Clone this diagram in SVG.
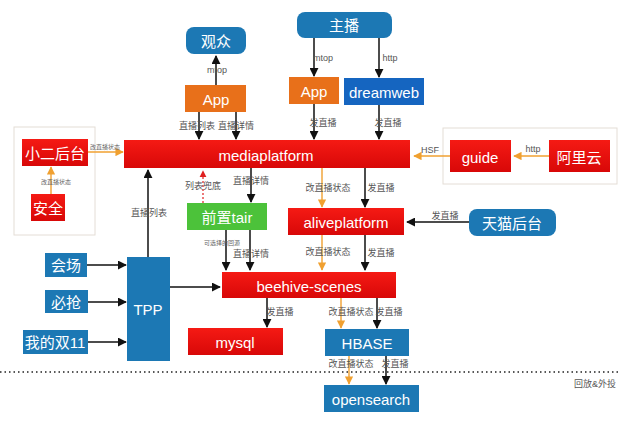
<svg xmlns="http://www.w3.org/2000/svg" width="620" height="421" viewBox="0 0 620 421">
<defs>
<linearGradient id="red" x1="0" y1="0" x2="0" y2="1"><stop offset="0" stop-color="#f51a14"/><stop offset="1" stop-color="#d80808"/></linearGradient>
<marker id="ab" viewBox="0 0 10 10" refX="9" refY="5" markerWidth="6" markerHeight="6" orient="auto"><path d="M0,0 L10,5 L0,10 z" fill="#111"/></marker>
<marker id="ao" viewBox="0 0 10 10" refX="9" refY="5" markerWidth="6" markerHeight="6" orient="auto"><path d="M0,0 L10,5 L0,10 z" fill="#f0a030"/></marker>
<marker id="ar" viewBox="0 0 10 10" refX="9" refY="5" markerWidth="6" markerHeight="6" orient="auto"><path d="M0,0 L10,5 L0,10 z" fill="#e02020"/></marker>
</defs>
<style>
text{font-family:"Liberation Sans","Noto Sans CJK SC",sans-serif}
.red{fill:url(#red)}
.blue{fill:#1c78b4}
.org{fill:#e8701a}
.t{fill:#fff;font-size:15px;text-anchor:middle;dominant-baseline:central}
.l{fill:#555;font-size:9px;text-anchor:middle;dominant-baseline:central}
.s{fill:#666;font-size:6px;text-anchor:middle;dominant-baseline:central}
.cb{stroke:#111;stroke-width:1.5;fill:none;marker-end:url(#ab)}
.co{stroke:#f0a030;stroke-width:1.4;fill:none;marker-end:url(#ao)}
.frame{fill:#fff;stroke:#e4ddd6;stroke-width:1}
</style>
<rect width="620" height="421" fill="#fff"/>
<rect class="frame" x="14" y="127" width="81" height="108"/>
<rect class="frame" x="443" y="128" width="174" height="56"/>
<line x1="0" y1="372" x2="620" y2="372" stroke="#222" stroke-width="1.5" stroke-dasharray="1.5 3"/>
<text class="l" x="595" y="384">回放&amp;外投</text>

<g id="connectors">
<line class="cb" x1="216" y1="85" x2="216" y2="56"/><text class="l" x="217" y="70">mtop</text>
<line class="cb" x1="199" y1="112" x2="199" y2="139"/><text class="l" x="197" y="126">直播列表</text>
<line class="cb" x1="236" y1="112" x2="236" y2="139"/><text class="l" x="236" y="126">直播详情</text>
<line class="cb" x1="314" y1="38" x2="314" y2="76"/><text class="l" x="323" y="58">mtop</text>
<line class="cb" x1="379" y1="38" x2="379" y2="77"/><text class="l" x="390" y="58">http</text>
<line class="cb" x1="314" y1="104" x2="314" y2="139"/><text class="l" x="323" y="123">发直播</text>
<line class="cb" x1="379" y1="105" x2="379" y2="139"/><text class="l" x="388" y="123">发直播</text>
<line class="co" x1="549" y1="156" x2="514" y2="156"/><text class="l" x="533" y="149">http</text>
<line class="co" x1="450" y1="156" x2="414" y2="156"/><text class="l" x="430" y="150">HSF</text>
<line class="co" x1="88" y1="152" x2="123" y2="152"/><text class="s" x="105" y="147">改直播状态</text>
<line class="co" x1="51" y1="194" x2="51" y2="167"/><text class="s" x="56" y="182">改直播状态</text>
<line class="cb" x1="148" y1="257" x2="148" y2="170"/><text class="l" x="149" y="213">直播列表</text>
<line stroke="#e02020" stroke-width="1.2" stroke-dasharray="2 2" marker-end="url(#ar)" x1="203" y1="203" x2="203" y2="171"/><text class="l" x="203" y="186">列表兜底</text>
<line class="cb" x1="251" y1="168" x2="251" y2="202"/><text class="l" x="251" y="181">直播详情</text>
<line class="cb" x1="226" y1="230" x2="226" y2="270"/><text class="s" x="222" y="243">可选择的回源</text>
<line class="cb" x1="250" y1="230" x2="250" y2="270"/><text class="l" x="251" y="254">直播详情</text>
<line class="co" x1="322" y1="168" x2="322" y2="207"/><text class="l" x="328" y="188">改直播状态</text>
<line class="cb" x1="365" y1="168" x2="365" y2="207"/><text class="l" x="381" y="188">发直播</text>
<line class="cb" x1="469" y1="222" x2="407" y2="222"/><text class="l" x="445" y="216">发直播</text>
<line class="co" x1="322" y1="235" x2="322" y2="270"/><text class="l" x="328" y="252">改直播状态</text>
<line class="cb" x1="365" y1="235" x2="365" y2="270"/><text class="l" x="381" y="253">发直播</text>
<line class="cb" x1="87" y1="265" x2="126" y2="265"/>
<line class="cb" x1="88" y1="302" x2="126" y2="302"/>
<line class="cb" x1="88" y1="342" x2="126" y2="342"/>
<line class="cb" x1="170" y1="287" x2="220" y2="287"/>
<line class="cb" x1="267" y1="298" x2="267" y2="327"/><text class="l" x="280" y="312">发直播</text>
<line class="co" x1="341" y1="298" x2="341" y2="328"/><text class="l" x="351" y="312">改直播状态</text>
<line class="cb" x1="377" y1="298" x2="377" y2="328"/><text class="l" x="389" y="312">发直播</text>
<line class="co" x1="349" y1="356" x2="349" y2="384"/><text class="l" x="351" y="364">改直播状态</text>
<line class="cb" x1="386" y1="356" x2="386" y2="384"/><text class="l" x="395" y="364">发直播</text>
</g>

<g id="guanzhong"><rect class="blue" x="186" y="27" width="60" height="27" rx="8"/><text class="t" x="216" y="41">观众</text></g>
<g id="app1"><rect class="org" x="185" y="85" width="61" height="27"/><text class="t" x="216" y="99">App</text></g>
<g id="zhubo"><rect class="blue" x="297" y="12" width="95" height="26" rx="8"/><text class="t" x="344" y="25">主播</text></g>
<g id="app2"><rect class="org" x="289" y="77" width="50" height="27"/><text class="t" x="314" y="91">App</text></g>
<g id="dreamweb"><rect fill="#1565c0" x="344" y="78" width="80" height="27"/><text class="t" x="384" y="92">dreamweb</text></g>
<g id="mediaplatform"><rect class="red" x="124" y="140" width="286" height="28"/><text class="t" x="266" y="155">mediaplatform</text></g>
<g id="xiaoer"><rect class="red" x="22" y="139" width="66" height="27"/><text class="t" x="55" y="153">小二后台</text></g>
<g id="anquan"><rect class="red" x="31" y="194" width="34" height="27"/><text class="t" x="48" y="208">安全</text></g>
<g id="guide"><rect class="red" x="450" y="140" width="61" height="32"/><text class="t" x="480" y="157">guide</text></g>
<g id="aliyun"><rect class="red" x="549" y="140" width="61" height="32"/><text class="t" x="579" y="157">阿里云</text></g>
<g id="tair"><rect fill="#4cc23a" x="187" y="203" width="80" height="27"/><text class="t" x="227" y="217">前置tair</text></g>
<g id="aliveplatform"><rect class="red" x="288" y="208" width="116" height="27"/><text class="t" x="346" y="222">aliveplatform</text></g>
<g id="tmall"><rect class="blue" x="469" y="209" width="87" height="27" rx="8"/><text class="t" x="512" y="223">天猫后台</text></g>
<g id="huichang"><rect class="blue" x="45" y="253" width="42" height="24"/><text class="t" x="66" y="265">会场</text></g>
<g id="biqiang"><rect class="blue" x="45" y="290" width="43" height="23"/><text class="t" x="66" y="302">必抢</text></g>
<g id="wode"><rect class="blue" x="23" y="330" width="65" height="24"/><text class="t" x="55" y="342">我的双11</text></g>
<g id="tpp"><rect class="blue" x="127" y="257" width="43" height="104"/><text class="t" x="148" y="309">TPP</text></g>
<g id="beehive"><rect class="red" x="222" y="272" width="174" height="26"/><text class="t" x="309" y="286">beehive-scenes</text></g>
<g id="mysql"><rect class="red" x="188" y="328" width="95" height="27"/><text class="t" x="235" y="342">mysql</text></g>
<g id="hbase"><rect class="blue" x="325" y="329" width="84" height="27"/><text class="t" x="367" y="343">HBASE</text></g>
<g id="opensearch"><rect class="blue" x="324" y="385" width="95" height="27"/><text class="t" x="371" y="399">opensearch</text></g>
</svg>
